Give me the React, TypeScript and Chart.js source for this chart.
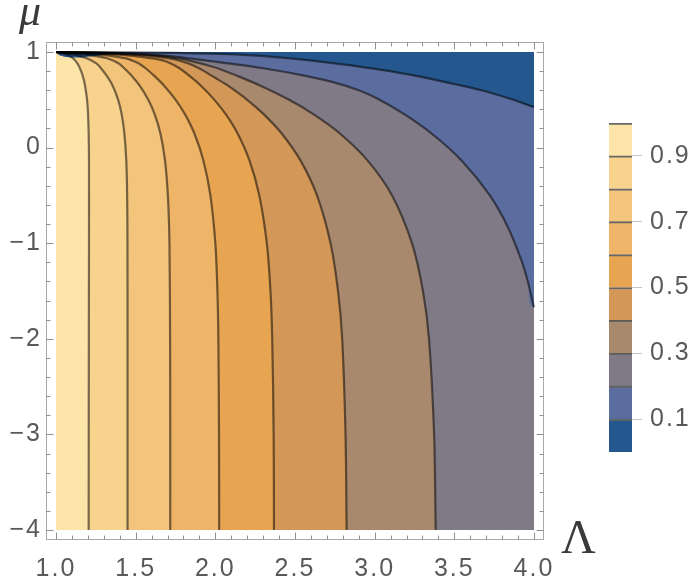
import React, { useEffect, useRef } from 'react';
import { Chart, registerables } from 'chart.js';

Chart.register(...registerables);

// ---- domain & ticks ----
const X_MIN = 1, X_MAX = 4, Y_MIN = -4, Y_MAX = 1;
const FRAME_PAD = 0.02;
const X_MAJOR = [1.0, 1.5, 2.0, 2.5, 3.0, 3.5, 4.0];
const Y_MAJOR = [-4, -3, -2, -1, 0, 1];
const X_MINOR_STEP = 0.1;
const Y_MINOR_STEP = 0.2;
const LEVELS = [0.1, 0.2, 0.3, 0.4, 0.5, 0.6, 0.7, 0.8, 0.9];
const CB_TICKS = [0.1, 0.3, 0.5, 0.7, 0.9];
// band colours: 0-0.1 ... 0.9-1
const BAND_COLORS = [
  '#24578d', '#5b6d9e', '#807a87', '#a9896d', '#d39857',
  '#e7a552', '#eeb467', '#f3c47b', '#f8d38e', '#fde5a9',
];

type Pt = [number, number]; // [Lambda, mu]

// contour lines (bottom/right end first, ending at the top-left corner)
const C09: Pt[] = [[1.205, -4], [1.206, -2], [1.207, -1], [1.207, -0.134], [1.205, 0.15], [1.201, 0.35], [1.195, 0.5], [1.182, 0.65], [1.168, 0.75], [1.15, 0.83], [1.134, 0.88], [1.11, 0.93], [1.085, 0.96], [1.055, 0.98], [1.03, 0.99], [1, 1]];
const C08: Pt[] = [[1.449, -4], [1.449, -2], [1.4485, -1], [1.4465, -0.5], [1.441, -0.134], [1.429, 0.15], [1.412, 0.35], [1.39, 0.5], [1.355, 0.65], [1.319, 0.75], [1.282, 0.83], [1.253, 0.88], [1.2, 0.93], [1.145, 0.96], [1.09, 0.98], [1.05, 0.99], [1, 1]];
const C07: Pt[] = [[1.717, -4], [1.717, -3], [1.716, -2], [1.712, -1], [1.702, -0.5], [1.684, -0.134], [1.655, 0.15], [1.619, 0.35], [1.579, 0.5], [1.524, 0.65], [1.476, 0.75], [1.428, 0.83], [1.394, 0.88], [1.33, 0.93], [1.245, 0.96], [1.14, 0.98], [1.08, 0.99], [1, 1]];
const C06: Pt[] = [[2.024, -4], [2.023, -3], [2.019, -2], [2.013, -1.5], [2.0, -1], [1.969, -0.5], [1.925, -0.134], [1.868, 0.15], [1.809, 0.35], [1.751, 0.5], [1.677, 0.65], [1.617, 0.75], [1.562, 0.83], [1.52, 0.88], [1.48, 0.91], [1.445, 0.93], [1.345, 0.96], [1.22, 0.98], [1.13, 0.99], [1, 1]];
const C05: Pt[] = [[2.368, -4], [2.366, -3], [2.357, -2], [2.346, -1.5], [2.323, -1], [2.276, -0.5], [2.214, -0.134], [2.139, 0.15], [2.065, 0.35], [1.986, 0.515], [1.908, 0.65], [1.838, 0.75], [1.775, 0.83], [1.72, 0.88], [1.675, 0.91], [1.615, 0.93], [1.48, 0.96], [1.31, 0.98], [1.17, 0.99], [1, 1]];
const C04: Pt[] = [[2.824, -4], [2.817, -3], [2.796, -2], [2.77, -1.5], [2.723, -1], [2.638, -0.5], [2.534, -0.134], [2.415, 0.15], [2.303, 0.35], [2.2, 0.5], [2.077, 0.65], [1.995, 0.734], [1.929, 0.8], [1.872, 0.85], [1.83, 0.88], [1.775, 0.91], [1.72, 0.93], [1.59, 0.96], [1.4, 0.98], [1.24, 0.99], [1, 1]];
const C03: Pt[] = [[3.383, -4], [3.373, -3], [3.341, -2], [3.303, -1.5], [3.234, -1], [3.109, -0.5], [2.955, -0.134], [2.78, 0.15], [2.615, 0.35], [2.463, 0.5], [2.28, 0.65], [2.138, 0.75], [2.018, 0.828], [1.93, 0.87], [1.86, 0.9], [1.78, 0.93], [1.65, 0.96], [1.46, 0.98], [1.29, 0.99], [1, 1]];
const C02: Pt[] = [[4.0, -1.67], [3.961, -1.4], [3.921, -1.18], [3.837, -0.835], [3.723, -0.5], [3.545, -0.134], [3.355, 0.15], [3.185, 0.35], [3.019, 0.512], [2.9, 0.6], [2.75, 0.68], [2.55, 0.755], [2.3, 0.83], [2.02, 0.894], [1.85, 0.93], [1.7, 0.96], [1.52, 0.98], [1.35, 0.99], [1, 1]];
const C01: Pt[] = [[4.0, 0.424], [3.87, 0.5], [3.67, 0.6], [3.49, 0.668], [3.26, 0.75], [3.033, 0.815], [2.8, 0.87], [2.55, 0.92], [2.36, 0.95], [2.17, 0.97], [1.967, 0.982], [1.75, 0.99], [1.45, 0.996], [1, 1]];

const CONTOURS: Pt[][] = [C01, C02, C03, C04, C05, C06, C07, C08, C09];

const LABEL_FONT = { family: "'Liberation Sans', Arial, sans-serif", size: 25 };
const LABEL_COLOR = '#595959';
const TENSION = 0.3;

const toXY = (p: Pt[]) => p.map(([x, y]) => ({ x, y }));

const minusFmt = (v: number) => (v < 0 ? '\u2212' + Math.abs(v) : String(v));

const spacingPlugin = {
  id: 'spacing',
  beforeDraw(chart: any) {
    (chart.ctx as any).letterSpacing = '2px';
  },
};

const framePlugin = {
  id: 'frame',
  afterDraw(chart: any) {
    const { ctx } = chart;
    const xs = chart.scales.x;
    const ys = chart.scales.y;
    const padX = (X_MAX - X_MIN) * FRAME_PAD;
    const padY = (Y_MAX - Y_MIN) * FRAME_PAD;
    const L = xs.getPixelForValue(X_MIN - padX);
    const R = xs.getPixelForValue(X_MAX + padX);
    const T = ys.getPixelForValue(Y_MAX + padY);
    const B = ys.getPixelForValue(Y_MIN - padY);
    ctx.save();
    ctx.strokeStyle = '#a8a8a8';
    ctx.lineWidth = 1;
    ctx.strokeRect(Math.round(L) + 0.5, Math.round(T) + 0.5, Math.round(R - L), Math.round(B - T));
    ctx.strokeStyle = '#8f8f8f';
    const isMajor = (v: number, list: number[]) => list.some((m) => Math.abs(m - v) < 1e-6);
    ctx.beginPath();
    const nX = Math.round((X_MAX - X_MIN) / X_MINOR_STEP);
    for (let i = 0; i <= nX; i++) {
      const v = X_MIN + i * X_MINOR_STEP;
      const len = isMajor(v, X_MAJOR) ? 7 : 4;
      const p = Math.round(xs.getPixelForValue(v)) + 0.5;
      ctx.moveTo(p, B); ctx.lineTo(p, B - len);
      ctx.moveTo(p, T); ctx.lineTo(p, T + len);
    }
    const nY = Math.round((Y_MAX - Y_MIN) / Y_MINOR_STEP);
    for (let i = 0; i <= nY; i++) {
      const v = Y_MIN + i * Y_MINOR_STEP;
      const len = isMajor(v, Y_MAJOR) ? 7 : 4;
      const p = Math.round(ys.getPixelForValue(v)) + 0.5;
      ctx.moveTo(L, p); ctx.lineTo(L + len, p);
      ctx.moveTo(R, p); ctx.lineTo(R - len, p);
    }
    ctx.stroke();
    // axis names
    ctx.fillStyle = '#3a3a3a';
    ctx.textBaseline = 'alphabetic';
    ctx.textAlign = 'left';
    ctx.font = "italic 44px 'Liberation Serif', serif";
    ctx.fillText('\u03bc', 19, 25);
    ctx.font = "48px 'Liberation Serif', serif";
    ctx.fillText('\u039b', 561, 553);
    ctx.restore();
  },
};

export default function App() {
  const mainRef = useRef<HTMLCanvasElement>(null);
  const cbRef = useRef<HTMLCanvasElement>(null);

  useEffect(() => {
    const datasets: any[] = [];
    const common = { pointRadius: 0, borderWidth: 0, borderColor: 'transparent', capBezierPoints: false };
    // whole domain: 0.9 - 1 band
    datasets.push({
      ...common,
      data: toXY([[X_MIN - 1, Y_MIN - 1], [X_MIN - 1, Y_MAX + 1], [X_MAX + 1, Y_MAX + 1], [X_MAX + 1, Y_MIN - 1]]),
      backgroundColor: BAND_COLORS[9], fill: 'shape', tension: 0, order: 100,
    });
    // region below each level
    for (let k = LEVELS.length - 1; k >= 0; k--) {
      const C = CONTOURS[k];
      const first = C[0];
      const startsOnRight = first[0] >= X_MAX;
      const poly: Pt[] = startsOnRight
        ? [[X_MAX + 1, first[1]], ...C, [X_MIN, Y_MAX + 1], [X_MAX + 1, Y_MAX + 1]]
        : [[first[0], Y_MIN - 1], ...C, [X_MIN, Y_MAX + 1], [X_MAX + 1, Y_MAX + 1], [X_MAX + 1, Y_MIN - 1]];
      datasets.push({
        ...common,
        data: toXY(poly), backgroundColor: BAND_COLORS[k], fill: 'shape', tension: TENSION, order: 90 + k,
      });
    }
    // contour lines
    CONTOURS.forEach((C) => {
      datasets.push({
        data: toXY(C), pointRadius: 0, borderColor: 'rgba(0,0,0,0.52)', borderWidth: 2.2,
        fill: false, tension: TENSION, order: 0, clip: 4, capBezierPoints: false,
      });
    });

    const main = new Chart(mainRef.current as HTMLCanvasElement, {
      type: 'line',
      data: { datasets },
      options: {
        responsive: false,
        animation: false,
        events: [],
        layout: { padding: { top: 52, right: 166, left: 0, bottom: 0 } },
        plugins: { legend: { display: false }, tooltip: { enabled: false } },
        scales: {
          x: {
            type: 'linear', min: X_MIN, max: X_MAX,
            afterBuildTicks: (s: any) => { s.ticks = X_MAJOR.map((v) => ({ value: v })); },
            afterFit: (s: any) => { s.height = 48; },
            ticks: { callback: (v: any) => Number(v).toFixed(1), font: LABEL_FONT, color: LABEL_COLOR, padding: 24, maxRotation: 0, autoSkip: false },
            grid: { display: false, drawTicks: false },
            border: { display: false },
          },
          y: {
            type: 'linear', min: Y_MIN, max: Y_MAX,
            afterBuildTicks: (s: any) => { s.ticks = Y_MAJOR.map((v) => ({ value: v })); },
            afterFit: (s: any) => { s.width = 56; },
            ticks: { callback: (v: any) => minusFmt(Number(v)), font: LABEL_FONT, color: LABEL_COLOR, padding: 14, autoSkip: false },
            grid: { display: false, drawTicks: false },
            border: { display: false },
          },
        },
      } as any,
      plugins: [spacingPlugin, framePlugin],
    });

    const cb = new Chart(cbRef.current as HTMLCanvasElement, {
      type: 'bar',
      data: {
        labels: [''],
        datasets: BAND_COLORS.map((c) => ({
          data: [0.1], backgroundColor: c, borderColor: 'rgba(0,0,0,0.6)',
          borderWidth: { top: 2, right: 0, bottom: 0, left: 0 }, borderSkipped: false,
          barPercentage: 1, categoryPercentage: 1,
        })),
      },
      options: {
        responsive: false,
        animation: false,
        events: [],
        layout: { padding: { left: 9, top: 22.7, bottom: 28, right: 0 } },
        plugins: { legend: { display: false }, tooltip: { enabled: false } },
        scales: {
          x: { stacked: true, display: false },
          y: {
            stacked: true, position: 'right', min: 0, max: 1,
            afterBuildTicks: (s: any) => { s.ticks = CB_TICKS.map((v) => ({ value: v })); },
            afterFit: (s: any) => { s.width = 68; },
            ticks: { callback: (v: any) => Number(v).toFixed(1), font: LABEL_FONT, color: LABEL_COLOR, padding: 8 },
            grid: { drawOnChartArea: false, drawTicks: true, tickLength: 10, color: '#c4c4c4', lineWidth: 1 },
            border: { display: false },
          },
        },
      } as any,
      plugins: [spacingPlugin],
    });

    return () => { main.destroy(); cb.destroy(); };
  }, []);

  return (
    <div style={{ position: 'fixed', left: 0, top: 0, width: 700, height: 578, background: '#fff' }}>
      <canvas ref={mainRef} width={700} height={578} style={{ position: 'absolute', left: 0, top: 0 }} />
      <canvas ref={cbRef} width={100} height={380} style={{ position: 'absolute', left: 600, top: 100 }} />
    </div>
  );
}
